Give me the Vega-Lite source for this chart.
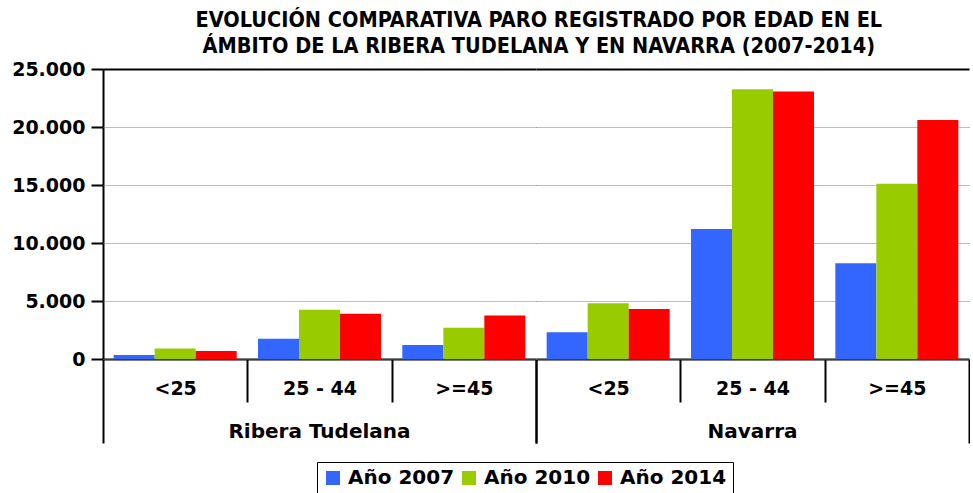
{
  "$schema": "https://vega.github.io/schema/vega-lite/v6.json",
  "padding": {"left": 11, "top": 9, "right": 0, "bottom": 0},
  "background": "white",
  "title": {
    "text": ["EVOLUCIÓN COMPARATIVA PARO REGISTRADO POR EDAD EN EL", "ÁMBITO DE LA RIBERA TUDELANA Y EN NAVARRA (2007-2014)"],
    "font": "DejaVu Sans Condensed",
    "fontSize": 21.5,
    "fontWeight": "bold",
    "color": "black",
    "anchor": "middle",
    "lineHeight": 26,
    "offset": 3,
    "dx": 48
  },
  "data": {
    "values": [
      {"region": "Ribera Tudelana", "age": "<25", "year": "Año 2007", "value": 350},
      {"region": "Ribera Tudelana", "age": "<25", "year": "Año 2010", "value": 900},
      {"region": "Ribera Tudelana", "age": "<25", "year": "Año 2014", "value": 700},
      {"region": "Ribera Tudelana", "age": "25 - 44", "year": "Año 2007", "value": 1750},
      {"region": "Ribera Tudelana", "age": "25 - 44", "year": "Año 2010", "value": 4250},
      {"region": "Ribera Tudelana", "age": "25 - 44", "year": "Año 2014", "value": 3900},
      {"region": "Ribera Tudelana", "age": ">=45", "year": "Año 2007", "value": 1200},
      {"region": "Ribera Tudelana", "age": ">=45", "year": "Año 2010", "value": 2700},
      {"region": "Ribera Tudelana", "age": ">=45", "year": "Año 2014", "value": 3750},
      {"region": "Navarra", "age": "<25", "year": "Año 2007", "value": 2300},
      {"region": "Navarra", "age": "<25", "year": "Año 2010", "value": 4800},
      {"region": "Navarra", "age": "<25", "year": "Año 2014", "value": 4300},
      {"region": "Navarra", "age": "25 - 44", "year": "Año 2007", "value": 11200},
      {"region": "Navarra", "age": "25 - 44", "year": "Año 2010", "value": 23250},
      {"region": "Navarra", "age": "25 - 44", "year": "Año 2014", "value": 23050},
      {"region": "Navarra", "age": ">=45", "year": "Año 2007", "value": 8250},
      {"region": "Navarra", "age": ">=45", "year": "Año 2010", "value": 15100},
      {"region": "Navarra", "age": ">=45", "year": "Año 2014", "value": 20600}
    ]
  },
  "facet": {
    "column": {
      "field": "region",
      "type": "nominal",
      "sort": ["Ribera Tudelana", "Navarra"],
      "title": null,
      "header": {
        "labelOrient": "bottom",
        "labelPadding": -22,
        "labelFont": "DejaVu Sans",
        "labelFontSize": 20,
        "labelFontWeight": "bold",
        "labelColor": "black"
      }
    }
  },
  "spacing": 0,
  "bounds": "flush",
  "spec": {
    "width": 433,
    "height": 290,
    "mark": {"type": "bar"},
    "encoding": {
      "x": {
        "field": "age",
        "type": "nominal",
        "sort": ["<25", "25 - 44", ">=45"],
        "scale": {"paddingInner": 0, "paddingOuter": 0},
        "axis": {
          "title": null,
          "labelAngle": 0,
          "tickBand": "extent",
          "tickSize": {"condition": {"test": "datum.value !== '<25' && datum.value !== '25 - 44'", "value": 84}, "value": 43},
          "tickColor": "black",
          "tickWidth": 2,
          "domainColor": "black",
          "domainWidth": 2,
          "labelPadding": {"condition": {"test": "datum.value === '>=45'", "value": -64}, "value": -23},
          "labelFont": "DejaVu Sans",
          "labelFontSize": 19,
          "labelFontWeight": "bold",
          "labelColor": "black"
        }
      },
      "xOffset": {
        "field": "year",
        "type": "nominal",
        "scale": {"paddingInner": 0, "paddingOuter": 0.26}
      },
      "y": {
        "field": "value",
        "type": "quantitative",
        "scale": {"domain": [0, 25000], "nice": false},
        "axis": {
          "title": null,
          "values": [0, 5000, 10000, 15000, 20000, 25000],
          "format": ",d",
          "labelFont": "DejaVu Sans",
          "labelFontSize": 19,
          "labelFontWeight": "bold",
          "labelColor": "black",
          "labelPadding": 6,
          "tickSize": 12,
          "tickColor": "black",
          "tickWidth": 2,
          "domainColor": "black",
          "domainWidth": 2,
          "grid": true,
          "gridColor": {"condition": {"test": "datum.value === 25000", "value": "black"}, "value": "#7a7a7a"},
          "gridDash": {"condition": {"test": "datum.value === 25000", "value": []}, "value": [1, 1]},
          "gridWidth": {"condition": {"test": "datum.value === 25000", "value": 2}, "value": 1}
        }
      },
      "color": {
        "field": "year",
        "type": "nominal",
        "scale": {"domain": ["Año 2007", "Año 2010", "Año 2014"], "range": ["#3366FF", "#99CC00", "#FF0000"]},
        "legend": {
          "title": null,
          "orient": "none",
          "legendX": 214,
          "legendY": 393,
          "direction": "horizontal",
          "symbolType": "square",
          "symbolSize": 196,
          "symbolStrokeWidth": 0,
          "symbolOpacity": 1,
          "labelFont": "DejaVu Sans",
          "labelFontSize": 20,
          "labelFontWeight": "bold",
          "labelColor": "black",
          "labelLimit": 300,
          "labelOffset": 5,
          "strokeColor": "black",
          "padding": 6,
          "columnPadding": 4
        }
      }
    }
  },
  "config": {
    "view": {"stroke": null},
    "locale": {"number": {"decimal": ",", "thousands": ".", "grouping": [3], "currency": ["", " €"]}},
    "font": "DejaVu Sans"
  }
}
